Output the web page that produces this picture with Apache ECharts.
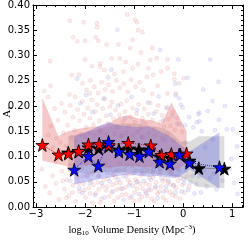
<!DOCTYPE html>
<html><head><meta charset="utf-8">
<script src="https://cdn.jsdelivr.net/npm/echarts@6/dist/echarts.min.js"></script>
<style>html,body{margin:0;padding:0;background:#fff}#c{width:249px;height:242px}</style>
</head><body><div id="c"></div>
<script>
// ---- background galaxies (x = log10 density, y = A1) ----
const redPts = [
[-2.31,0.369],[-2.03,0.366],[-1.76,0.364],[-1.75,0.356],[-2.24,0.336],[-2.0,0.329],[-2.16,0.328],[-1.78,0.336],[-1.73,0.329],[-1.56,0.322],[-1.32,0.322],
[-2.71,0.289],[-2.0,0.292],[-1.46,0.294],[-1.29,0.294],[-1.69,0.284],[-1.86,0.279],[-1.69,0.278],[-2.27,0.261],[-2.70,0.240],[-2.83,0.230],[-2.75,0.218],
[-2.32,0.223],[-2.20,0.218],[-1.90,0.225],
[-1.14,0.381],[-0.98,0.371],[-0.94,0.366],[-0.92,0.350],[-0.83,0.346],[-1.03,0.331],[-1.08,0.315],[-0.86,0.306],[-0.63,0.315],[-0.67,0.291],[-0.54,0.295],
[-0.32,0.292],[-1.17,0.287],[-0.71,0.275],[-1.03,0.275],[-0.32,0.275],[-0.18,0.264],[-0.18,0.253],[-0.08,0.245],[0.01,0.255],[-0.15,0.225],[-0.32,0.225],
[-0.52,0.240],[-0.63,0.224],
[-2.05,0.245],[-1.97,0.232],[-1.89,0.251],[-1.81,0.238],[-1.73,0.226],[-1.66,0.247],[-1.59,0.233],[-1.52,0.242],[-1.44,0.229],[-1.36,0.251],[-1.29,0.236],
[-1.21,0.244],[-1.13,0.228],[-1.06,0.252],[-0.97,0.238],[-0.89,0.247],[-0.81,0.231],[-0.74,0.258],[-0.61,0.262],[-0.45,0.268],[-1.61,0.271],[-1.40,0.263],
[-1.22,0.268],[-0.92,0.283],[-2.12,0.262],
[-2.62,0.195],[-2.55,0.172],[-2.48,0.205],[-2.41,0.188],[-2.36,0.162],[-2.30,0.201],[-2.25,0.178],[-2.21,0.152],[-2.15,0.193],[-2.11,0.171],[-2.06,0.209],
[-2.02,0.184],[-1.98,0.158],[-1.94,0.196],[-1.90,0.176],[-1.86,0.212],[-1.83,0.163],[-1.79,0.189],[-1.75,0.203],[-1.71,0.171],[-1.68,0.152],[-1.64,0.195],
[-1.60,0.214],[-1.57,0.181],[-1.53,0.166],[-1.49,0.199],[-1.45,0.208],[-1.42,0.175],[-1.38,0.192],[-1.34,0.158],[-1.30,0.183],[-1.27,0.204],[-1.23,0.169],
[-1.19,0.189],[-1.15,0.211],[-1.11,0.161],[-1.07,0.179],[-1.03,0.196],[-0.99,0.168],[-0.95,0.185],[-0.91,0.203],[-0.87,0.157],[-0.83,0.176],[-0.79,0.194],
[-0.75,0.165],[-0.71,0.184],[-0.67,0.206],[-0.63,0.172],[-0.59,0.155],[-0.55,0.189],[-0.51,0.201],[-0.47,0.168],[-0.43,0.182],[-0.39,0.159],[-0.35,0.196],
[-0.30,0.174],[-0.26,0.161],[-0.21,0.188],[-0.17,0.153],[-0.12,0.176],[-0.07,0.164],[-0.02,0.149],
[-2.75,0.142],[-2.66,0.118],[-2.58,0.136],[-2.50,0.128],[-2.44,0.147],[-2.39,0.121],[-2.28,0.138],[-2.19,0.131],[-2.09,0.144],[-2.00,0.139],[-1.92,0.146],
[-1.81,0.141],[-1.69,0.148],[-1.58,0.143],[-1.40,0.145],[-1.26,0.140],[-1.16,0.147],[-1.02,0.142],[-0.93,0.149],[-0.81,0.138],[-0.70,0.146],[-0.58,0.141],
[-0.44,0.137],[-0.33,0.144],[-0.19,0.132],
[-2.81,0.041],[-2.72,0.028],[-2.66,0.062],[-2.59,0.047],[-2.53,0.015],[-2.47,0.071],[-2.42,0.036],[-2.37,0.054],[-2.33,0.022],[-2.28,0.066],[-2.24,0.043],
[-2.19,0.011],[-2.15,0.058],[-2.11,0.031],[-2.07,0.077],[-2.03,0.046],[-1.99,0.019],[-1.96,0.063],[-1.92,0.038],[-1.88,0.052],[-1.85,0.008],[-1.81,0.071],
[-1.78,0.027],[-1.74,0.049],[-1.71,0.062],[-1.67,0.016],[-1.64,0.041],[-1.61,0.075],[-1.57,0.033],[-1.54,0.056],[-1.51,0.021],[-1.47,0.068],[-1.44,0.044],
[-1.41,0.012],[-1.38,0.059],[-1.35,0.035],[-1.31,0.073],[-1.28,0.048],[-1.25,0.024],[-1.22,0.061],[-1.18,0.039],[-1.15,0.083],[-1.12,0.053],[-1.09,0.018],
[-1.06,0.066],[-1.02,0.042],[-0.99,0.029],[-0.96,0.072],[-0.93,0.051],[-0.89,0.014],[-0.86,0.063],[-0.83,0.037],[-0.79,0.079],[-0.76,0.046],[-0.73,0.022],
[-0.69,0.058],[-0.66,0.034],[-0.62,0.069],[-0.59,0.011],[-0.55,0.049],[-0.52,0.027],[-0.48,0.064],[-0.45,0.041],[-0.41,0.019],[-0.37,0.056],[-0.34,0.033],
[-0.30,0.071],[-0.26,0.045],[-0.22,0.024],[-0.18,0.061],[-0.14,0.038],[-0.10,0.052],[-0.06,0.017],[-0.02,0.044],[0.03,0.029],[0.08,0.061],
[-2.45,0.052],[-2.38,0.018],[-2.31,0.081],[-2.26,0.029],[-2.17,0.069],[-2.13,0.047],[-2.05,0.061],[-2.01,0.034],[-1.97,0.085],[-1.90,0.027],[-1.87,0.066],
[-1.83,0.044],[-1.76,0.081],[-1.72,0.035],[-1.69,0.009],[-1.62,0.053],[-1.59,0.087],[-1.55,0.041],[-1.49,0.078],[-1.46,0.029],[-1.42,0.064],[-1.36,0.047],
[-1.33,0.019],[-1.29,0.087],[-1.24,0.036],[-1.20,0.074],[-1.16,0.025],[-1.13,0.066],[-1.08,0.048],[-1.04,0.081],[-1.00,0.012],[-0.97,0.055],[-0.94,0.037],
[-0.91,0.085],[-0.87,0.046],[-0.84,0.021],[-0.80,0.067],[-0.77,0.031],[-0.72,0.073],[-0.68,0.044],[-0.64,0.016],[-0.61,0.059],[-0.57,0.038],[-0.53,0.082],
[-0.49,0.031],[-0.46,0.071],[-0.42,0.051],[-0.38,0.083],[-0.35,0.013],[-0.31,0.049],[-0.27,0.029],[-0.23,0.068],[-0.19,0.043],[-0.15,0.021],[-0.11,0.076],
[-0.05,0.058],[0.12,0.041],[-2.60,0.090],[-2.52,0.110],[-2.70,0.160],[-2.88,0.075]
];
const bluePts = [
[-1.34,0.351],[-1.46,0.272],[-1.53,0.257],[-2.16,0.254],[-1.98,0.222],[-0.47,0.311],[-0.10,0.292],[0.55,0.292],[0.09,0.256],[0.41,0.233],[0.72,0.248],
[-0.15,0.221],[-0.01,0.197],[0.33,0.187],[-0.16,0.244],[-0.08,0.215],[0.31,0.184],[0.04,0.162],[0.28,0.168],[0.38,0.150],[0.65,0.152],[0.89,0.154],
[0.33,0.170],[0.73,0.173],[1.01,0.154],[0.02,0.048],[1.04,0.048],[1.11,0.026],[0.36,0.029],
[-2.10,0.205],[-1.85,0.188],[-1.62,0.215],[-1.48,0.183],[-1.33,0.201],[-1.18,0.176],[-1.05,0.218],[-0.94,0.192],[-0.82,0.168],[-0.72,0.207],[-0.60,0.185],
[-0.50,0.219],[-0.41,0.172],[-0.32,0.197],[-0.22,0.181],[-0.12,0.165],[-0.05,0.203],[0.12,0.178],[0.21,0.158],
[-1.70,0.135],[-1.25,0.142],[-0.85,0.139],[-0.38,0.133],[0.05,0.128],[0.45,0.118],[0.60,0.134],
[-2.30,0.052],[-2.12,0.038],[-1.95,0.061],[-1.80,0.024],[-1.66,0.047],[-1.55,0.068],[-1.43,0.031],[-1.32,0.055],[-1.21,0.014],[-1.10,0.043],[-1.00,0.067],
[-0.90,0.026],[-0.80,0.052],[-0.70,0.035],[-0.61,0.074],[-0.52,0.018],[-0.44,0.057],[-0.35,0.041],[-0.25,0.066],[-0.16,0.029],[-0.08,0.072],[0.01,0.055],
[0.10,0.034],[0.19,0.062],[0.27,0.045],[0.42,0.072],[0.55,0.058],[0.68,0.035],
[-2.20,0.065],[-2.05,0.028],[-1.90,0.047],[-1.73,0.061],[-1.60,0.019],[-1.50,0.051],[-1.38,0.072],[-1.27,0.037],[-1.16,0.061],[-1.05,0.021],[-0.95,0.049],
[-0.85,0.071],[-0.75,0.028],[-0.66,0.054],[-0.56,0.041],[-0.47,0.075],[-0.40,0.031],[-0.30,0.052],[-0.20,0.043],[-0.12,0.061],[-0.03,0.031],[0.06,0.072],
[0.15,0.049],[0.23,0.027],[0.32,0.061],[0.48,0.041],[0.62,0.066],[0.80,0.052],[0.95,0.075],[0.50,0.190],[0.60,0.210],[0.85,0.200],[1.10,0.120],[0.98,0.095]
];

// ---- binned medians (stars) ----
const redX = [-2.87,-2.54,-2.34,-2.13,-1.93,-1.71,-1.52,-1.12,-0.66,-0.44,-0.24,0.07];
const redY = [0.123,0.104,0.106,0.111,0.124,0.125,0.123,0.127,0.122,0.103,0.105,0.106];
const blueX = [-2.22,-1.93,-1.73,-1.52,-1.31,-1.09,-0.89,-0.70,-0.48,-0.27,-0.08,0.13,0.74];
const blueY = [0.074,0.101,0.082,0.129,0.110,0.105,0.101,0.110,0.090,0.086,0.104,0.088,0.079];
const allX = [-2.34,-2.13,-1.93,-1.72,-1.52,-1.31,-1.10,-0.90,-0.69,-0.48,-0.27,-0.06,0.13,0.32,0.84];
const allY = [0.108,0.110,0.118,0.116,0.120,0.114,0.116,0.114,0.114,0.100,0.098,0.104,0.092,0.077,0.076];

// ---- percentile bands ----
const redBandX = [-2.87,-2.54,-2.34,-2.13,-1.93,-1.71,-1.52,-1.31,-1.12,-0.90,-0.66,-0.44,-0.24,0.07];
const redBandHi = [0.216,0.140,0.150,0.155,0.158,0.160,0.165,0.178,0.182,0.175,0.172,0.165,0.207,0.150];
const redBandLo = [0.092,0.085,0.080,0.082,0.083,0.080,0.078,0.080,0.082,0.080,0.079,0.078,0.070,0.085];
const blueBandX = [-2.22,-1.93,-1.73,-1.52,-1.31,-1.09,-0.89,-0.70,-0.48,-0.27,-0.08,0.13,0.74];
const blueBandHi = [0.140,0.150,0.160,0.168,0.162,0.160,0.158,0.160,0.150,0.140,0.125,0.110,0.148];
const blueBandLo = [0.045,0.050,0.055,0.058,0.062,0.065,0.062,0.060,0.062,0.058,0.060,0.075,0.037];
const allBandX = [-2.34,-2.13,-1.93,-1.72,-1.52,-1.31,-1.10,-0.90,-0.69,-0.48,-0.27,-0.06,0.13,0.32,0.84];
const allBandHi = [0.140,0.145,0.150,0.155,0.160,0.165,0.165,0.165,0.160,0.158,0.150,0.130,0.130,0.140,0.140];
const allBandLo = [0.070,0.068,0.065,0.068,0.070,0.068,0.070,0.068,0.066,0.064,0.062,0.060,0.050,0.040,0.038];

const yTicks = [0,0.05,0.10,0.15,0.20,0.25,0.30,0.35,0.40];

const STAR = 'path://M50,0 L61,35 L98,35 L68,57 L79,91 L50,70 L21,91 L32,57 L2,35 L39,35 Z';
const zip = (a,b)=>a.map((v,i)=>[v,b[i]]);

function band(xs, hi, lo, color, z){
  return {
    type:'custom', z:z, silent:true, clip:true,
    data:[[0]],
    renderItem:function(params, api){
      const pts=[];
      for(let i=0;i<xs.length;i++) pts.push(api.coord([xs[i],hi[i]]));
      for(let i=xs.length-1;i>=0;i--) pts.push(api.coord([xs[i],lo[i]]));
      return {type:'polygon', shape:{points:pts}, style:{fill:color}};
    }
  };
}
function stars(xs, ys, color, lineColor, z){
  return {
    type:'line', z:z, data:zip(xs,ys), symbol:STAR, symbolSize:13,
    itemStyle:{color:color, borderColor:'#000', borderWidth:0.8},
    lineStyle:{color:lineColor, width:1, type:'dotted'},
    silent:true, animation:false
  };
}
const fmtX = v => Math.abs(v-Math.round(v))>1e-6 ? '' : (v<0 ? '\u2212'+Math.abs(v) : String(v));
const lab = {fontFamily:'DejaVu Sans', fontSize:10, color:'#000'};
const axLine = {show:true, onZero:false, lineStyle:{color:'#000', width:1}};
const serifRich = {n:{fontFamily:'Liberation Serif', fontSize:11, color:'#000'},
  s:{fontFamily:'Liberation Serif', fontSize:7, color:'#000', verticalAlign:'bottom', padding:[6,0,0,0]}};

const chart = echarts.init(document.getElementById('c'), null, {renderer:'canvas'});
chart.setOption({
  animation:false,
  grid:{left:33, right:6, top:5, bottom:24},
  graphic:[{type:'text', x:7, y:112, rotation:Math.PI/2, z:10,
    style:{text:'{n|A}{s|1}', rich:serifRich, align:'center', verticalAlign:'middle'}}],
  xAxis:[
    {type:'value', min:-3.06, max:1.22, splitNumber:5, position:'bottom',
     name:'{n|log}{s|10}{n| Volume Density (Mpc}{p|\u22123}{n|)}', nameLocation:'middle', nameGap:10,
     nameTextStyle:{padding:[0,12,0,0], rich:{n:{fontFamily:'Liberation Serif', fontSize:10.5, color:'#000'},
       s:{fontFamily:'Liberation Serif', fontSize:7, color:'#000', verticalAlign:'bottom', padding:[6,0,0,0]},
       p:{fontFamily:'Liberation Serif', fontSize:7, color:'#000', verticalAlign:'top', padding:[0,0,5,0]}}},
     axisLine:axLine, splitLine:{show:false},
     axisTick:{inside:true, length:4, lineStyle:{color:'#000'}},
     minorTick:{show:true, splitNumber:5, length:2, lineStyle:{color:'#000'}},
     axisLabel:Object.assign({margin:2, formatter:fmtX, showMinLabel:false, showMaxLabel:false}, lab)},
    {type:'value', min:-3.06, max:1.22, splitNumber:5, position:'top',
     axisLine:axLine, splitLine:{show:false},
     axisTick:{inside:true, length:4, lineStyle:{color:'#000'}},
     minorTick:{show:true, splitNumber:5, length:2, lineStyle:{color:'#000'}},
     axisLabel:{show:false}}
  ],
  yAxis:[
    {type:'value', min:yTicks[0], max:yTicks[yTicks.length-1], interval:0.05, position:'left',
     axisLine:axLine, splitLine:{show:false},
     axisTick:{inside:true, length:4, lineStyle:{color:'#000'}},
     minorTick:{show:true, splitNumber:5, length:2, lineStyle:{color:'#000'}},
     axisLabel:Object.assign({margin:3, formatter:v=>v.toFixed(2)}, lab)},
    {type:'value', min:yTicks[0], max:yTicks[yTicks.length-1], interval:0.05, position:'right',
     axisLine:axLine, splitLine:{show:false},
     axisTick:{inside:true, length:4, lineStyle:{color:'#000'}},
     minorTick:{show:true, splitNumber:5, length:2, lineStyle:{color:'#000'}},
     axisLabel:{show:false}}
  ],
  series:[
    {type:'scatter', z:1, data:redPts, symbolSize:4, silent:true,
     itemStyle:{color:'rgba(225,120,120,0.18)', borderColor:'rgba(210,90,90,0.3)', borderWidth:0.5}},
    {type:'scatter', z:1, data:bluePts, symbolSize:4, silent:true,
     itemStyle:{color:'rgba(130,130,230,0.2)', borderColor:'rgba(110,110,220,0.32)', borderWidth:0.5}},
    band(allBandX, allBandHi, allBandLo, 'rgba(120,120,120,0.25)', 2),
    band(redBandX, redBandHi, redBandLo, 'rgba(225,90,90,0.33)', 2),
    band(blueBandX, blueBandHi, blueBandLo, 'rgba(80,80,225,0.3)', 2),
    stars(allX, allY, '#000', '#555', 3),
    stars(redX, redY, '#ff0000', '#ff0000', 4),
    stars(blueX, blueY, '#0a0aff', '#2020ff', 5)
  ]
});
</script></body></html>
